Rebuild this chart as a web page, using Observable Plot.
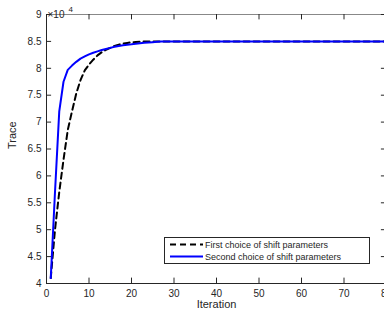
<!DOCTYPE html>
<html><head><meta charset="utf-8">
<script src="https://cdn.jsdelivr.net/npm/d3@7"></script>
<script src="https://cdn.jsdelivr.net/npm/@observablehq/plot@0.6"></script>
<style>
html,body{margin:0;padding:0;background:#fff;overflow:hidden;width:384px;height:320px;}
</style></head>
<body><div id="chart"></div>
<script>
const iterations = d3.range(1, 81);
const firstChoice = [
  41000, 50000, 57000, 63000, 68500, 72000, 75300, 77800, 79600, 80700,
  81600, 82400, 83000, 83450, 83800, 84150, 84400, 84600, 84720, 84820,
  84890, 84940, 84975, 85000, 85000, 85000, 85000, 85000, 85000, 85000,
  85000, 85000, 85000, 85000, 85000, 85000, 85000, 85000, 85000, 85000,
  85000, 85000, 85000, 85000, 85000, 85000, 85000, 85000, 85000, 85000,
  85000, 85000, 85000, 85000, 85000, 85000, 85000, 85000, 85000, 85000,
  85000, 85000, 85000, 85000, 85000, 85000, 85000, 85000, 85000, 85000,
  85000, 85000, 85000, 85000, 85000, 85000, 85000, 85000, 85000, 85000
];
const secondChoice = [
  41000, 57000, 72000, 77500, 79700, 80500, 81200, 81800, 82200, 82600,
  82900, 83150, 83400, 83600, 83800, 84000, 84150, 84280, 84380, 84460,
  84560, 84650, 84730, 84800, 84860, 84920, 84960, 84985, 85000, 85000,
  85000, 85000, 85000, 85000, 85000, 85000, 85000, 85000, 85000, 85000,
  85000, 85000, 85000, 85000, 85000, 85000, 85000, 85000, 85000, 85000,
  85000, 85000, 85000, 85000, 85000, 85000, 85000, 85000, 85000, 85000,
  85000, 85000, 85000, 85000, 85000, 85000, 85000, 85000, 85000, 85000,
  85000, 85000, 85000, 85000, 85000, 85000, 85000, 85000, 85000, 85000
];
const seriesNames = ["First choice of shift parameters", "Second choice of shift parameters"];
const xTicks = [0, 10, 20, 30, 40, 50, 60, 70, 80];
const yTicks = [40000, 45000, 50000, 55000, 60000, 65000, 70000, 75000, 80000, 85000, 90000];
const xLabel = "Iteration";
const yLabel = "Trace";

const first = iterations.map((x, i) => ({x, y: firstChoice[i]}));
const second = iterations.map((x, i) => ({x, y: secondChoice[i]}));

const dark = "#262626";
const plot = Plot.plot({
  width: 392, height: 320,
  marginLeft: 46, marginRight: 6, marginTop: 14, marginBottom: 37,
  style: {fontFamily: "'Liberation Sans', Arial, sans-serif", fontSize: "10px", color: dark, background: "#fff", maxWidth: "none", overflow: "visible"},
  x: {domain: [0, 80]},
  y: {domain: [40000, 90000]},
  marks: [
    Plot.ruleY([90000], {stroke: "#888", strokeWidth: 1}),
    Plot.ruleX([80], {stroke: "#888", strokeWidth: 1}),
    Plot.ruleX(xTicks, {x: d => d, y1: 40000, y2: 41000, stroke: dark}),
    Plot.ruleX(xTicks, {x: d => d, y1: 90000, y2: 89000, stroke: dark}),
    Plot.ruleY(yTicks, {y: d => d, x1: 0, x2: 1.2, stroke: dark}),
    Plot.ruleY(yTicks, {y: d => d, x1: 80, x2: 78.8, stroke: dark}),
    Plot.axisX({ticks: xTicks, tickSize: 0, tickPadding: 6, label: null, fontSize: 10}),
    Plot.axisY({ticks: yTicks, tickSize: 0, tickPadding: 5, label: null, fontSize: 10, tickFormat: d => d / 1e4}),
    Plot.line(first, {x: "x", y: "y", stroke: "black", strokeWidth: 2, strokeDasharray: "6,4"}),
    Plot.line(second, {x: "x", y: "y", stroke: "#0000ff", strokeWidth: 2}),
    Plot.ruleX([0], {stroke: dark, strokeWidth: 1}),
    Plot.ruleY([40000], {stroke: dark, strokeWidth: 1}),
    Plot.text([xLabel], {frameAnchor: "bottom", dy: 24, fontSize: 11, fill: dark}),
    Plot.text([yLabel], {frameAnchor: "left", dx: -34, rotate: -90, fontSize: 11, fill: dark}),
    Plot.text(["×10"], {frameAnchor: "top-left", dx: 1, dy: -4, textAnchor: "start", fontSize: 10, fill: dark}),
    Plot.text(["4"], {frameAnchor: "top-left", dx: 22, dy: -8, textAnchor: "start", fontSize: 8, fill: dark})
  ]
});
document.getElementById("chart").appendChild(plot);

// legend
const svg = d3.select(plot);
const lg = svg.append("g").attr("text-anchor", "start");
lg.append("rect").attr("x", 164.5).attr("y", 237.5).attr("width", 205).attr("height", 26)
  .attr("fill", "#fff").attr("stroke", dark).attr("stroke-width", 1);
const styles = [{stroke: "black", dash: "6,4"}, {stroke: "#0000ff", dash: null}];
seriesNames.forEach((name, i) => {
  const cy = 244.5 + i * 12;
  const l = lg.append("line").attr("x1", 170).attr("x2", 203).attr("y1", cy).attr("y2", cy)
    .attr("stroke", styles[i].stroke).attr("stroke-width", 2);
  if (styles[i].dash) l.attr("stroke-dasharray", styles[i].dash);
  lg.append("text").attr("x", 205).attr("y", cy).attr("dy", "0.35em")
    .attr("text-anchor", "start")
    .attr("font-size", 9).attr("fill", dark).text(name);
});
</script></body></html>
